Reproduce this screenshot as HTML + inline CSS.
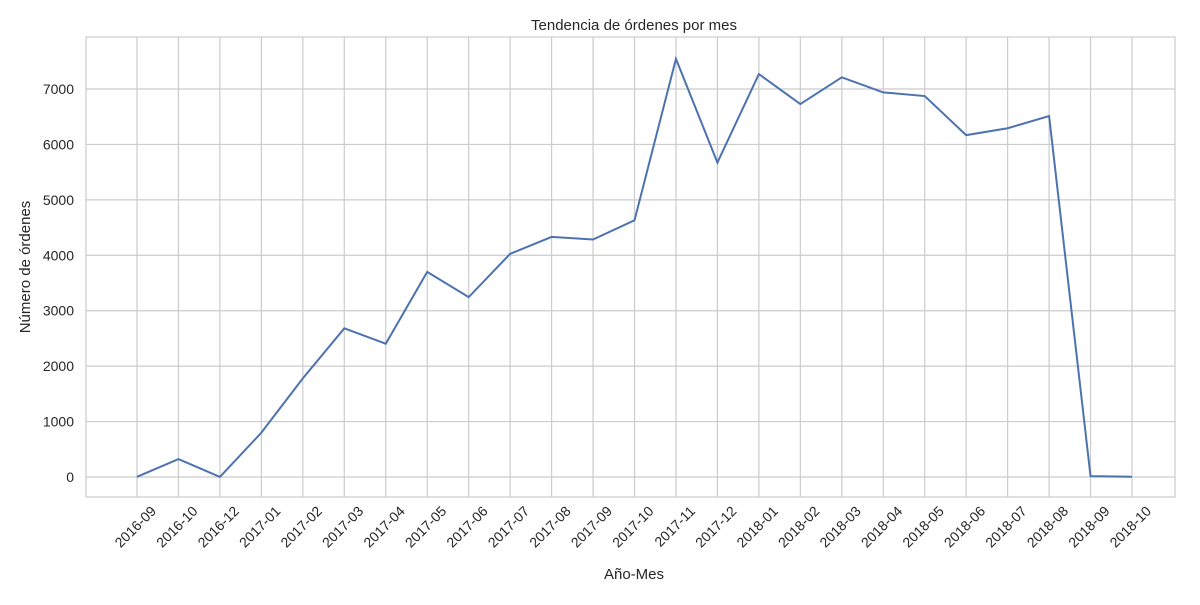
<!DOCTYPE html>
<html><head><meta charset="utf-8"><style>
body{margin:0;background:#fff;}
svg text{font-family:"Liberation Sans",sans-serif;fill:#262626;}
</style></head><body>
<svg id="chart" width="1200" height="600">
<text x="634" y="30" font-size="15" text-anchor="middle">Tendencia de órdenes por mes</text>
<g id="grid"></g>
<rect x="86" y="37" width="1089" height="460" fill="none" stroke="#cccccc" stroke-width="1.2"/>
<g id="ticks"></g>
<path id="line" fill="none" stroke="#4c72b0" stroke-width="2"/>
<text x="634" y="579" font-size="15" text-anchor="middle">Año-Mes</text>
<text transform="translate(30,267) rotate(-90)" font-size="15" text-anchor="middle">Número de órdenes</text>
</svg>
<script>
const categories=["2016-09","2016-10","2016-12","2017-01","2017-02","2017-03","2017-04","2017-05","2017-06","2017-07","2017-08","2017-09","2017-10","2017-11","2017-12","2018-01","2018-02","2018-03","2018-04","2018-05","2018-06","2018-07","2018-08","2018-09","2018-10"];
const orders=[4,324,1,800,1780,2682,2404,3700,3245,4026,4331,4285,4631,7544,5673,7269,6728,7211,6939,6873,6167,6292,6512,16,4];
const yTicks=[0,1000,2000,3000,4000,5000,6000,7000];
const NS="http://www.w3.org/2000/svg";
const x=i=>137+i*(1132-137)/(categories.length-1);
const y=v=>477-v*(477-89)/7000;
const grid=document.getElementById('grid'),ticks=document.getElementById('ticks');
function mk(tag,attrs,parent){const e=document.createElementNS(NS,tag);for(const k in attrs)e.setAttribute(k,attrs[k]);parent.appendChild(e);return e;}
yTicks.forEach(v=>{
  const l=mk('line',{x1:86,x2:1175,y1:y(v),y2:y(v),stroke:'#cccccc','stroke-width':1.2},grid);
  
  
  const t=mk('text',{x:74,y:y(v)+5,'font-size':14,'text-anchor':'end'},ticks);
  t.textContent=v;
  
  
});
categories.forEach((c,i)=>{
  const l=mk('line',{x1:x(i),x2:x(i),y1:37,y2:497,stroke:'#cccccc','stroke-width':1.2},grid);
  
  
  const t=mk('text',{'font-size':14,'text-anchor':'end',transform:`translate(${x(i)+20},${512}) rotate(-45)`},ticks);
  t.textContent=c;
  
  
});
document.getElementById('line').setAttribute('d',orders.map((v,i)=>(i?'L':'M')+x(i)+','+y(v)).join(''));
</script>
</body></html>
